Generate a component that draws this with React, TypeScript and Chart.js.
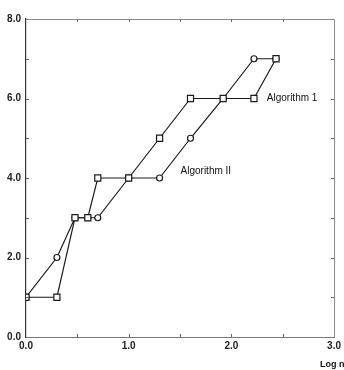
import React, { useEffect, useRef } from "react";
import { Chart, registerables } from "chart.js";

Chart.register(...registerables);

const xLogN = [0, 0.301, 0.477, 0.602, 0.699, 1.0, 1.301, 1.602, 1.92, 2.22, 2.435];
const algorithmI = [1, 1, 3, 3, 4, 4, 5, 6, 6, 6, 7];
const algorithmII = [1, 2, 3, 3, 3, 4, 4, 5, 6, 7, 7];
const seriesLabels = ["Algorithm 1", "Algorithm II"];
const xTitle = "Log n";

const FONT = "'Liberation Sans', Arial, sans-serif";

const decorPlugin = {
  id: "decor",
  afterDraw(chart: any) {
    const { ctx, chartArea, scales } = chart;
    const x = scales.x;
    const y = scales.y;
    ctx.save();
    // light top & right frame
    ctx.strokeStyle = "#8a8a8a";
    ctx.lineWidth = 1;
    ctx.beginPath();
    ctx.moveTo(chartArea.left, chartArea.top + 0.5);
    ctx.lineTo(chartArea.right + 0.5, chartArea.top + 0.5);
    ctx.lineTo(chartArea.right + 0.5, chartArea.bottom);
    ctx.stroke();
    // inward minor ticks
    ctx.strokeStyle = "#666";
    ctx.beginPath();
    for (let v = 1; v < 8; v++) {
      const py = Math.round(y.getPixelForValue(v)) + 0.5;
      ctx.moveTo(chartArea.left, py);
      ctx.lineTo(chartArea.left + 3, py);
      ctx.moveTo(chartArea.right, py);
      ctx.lineTo(chartArea.right - 3, py);
    }
    for (let v = 0.5; v < 3; v += 0.5) {
      const px = Math.round(x.getPixelForValue(v)) + 0.5;
      ctx.moveTo(px, chartArea.bottom);
      ctx.lineTo(px, chartArea.bottom - 3);
      ctx.moveTo(px, chartArea.top);
      ctx.lineTo(px, chartArea.top + 3);
    }
    ctx.stroke();
    // series labels
    ctx.fillStyle = "#111";
    ctx.font = `10px ${FONT}`;
    ctx.textBaseline = "middle";
    ctx.textAlign = "left";
    ctx.fillText(seriesLabels[0], x.getPixelForValue(2.345), y.getPixelForValue(6));
    ctx.fillText(seriesLabels[1], x.getPixelForValue(1.505), y.getPixelForValue(4.18));
    // axis title
    ctx.font = `bold 9px ${FONT}`;
    ctx.textAlign = "left";
    ctx.fillText(xTitle, 320, 365);
    ctx.restore();
  },
};

export default function App() {
  const ref = useRef<HTMLCanvasElement | null>(null);
  useEffect(() => {
    if (!ref.current) return;
    const chart = new Chart(ref.current, {
      type: "line",
      data: {
        datasets: [
          {
            label: seriesLabels[0],
            data: xLogN.map((v, i) => ({ x: v, y: algorithmI[i] })),
            borderColor: "#1a1a1a",
            borderWidth: 1.2,
            pointStyle: "rect",
            pointRadius: 4.3,
            pointBorderWidth: 1.2,
            pointBackgroundColor: "#fff",
            pointBorderColor: "#1a1a1a",
            tension: 0,
          },
          {
            label: seriesLabels[1],
            data: xLogN.map((v, i) => ({ x: v, y: algorithmII[i] })),
            borderColor: "#1a1a1a",
            borderWidth: 1.2,
            pointStyle: "circle",
            pointRadius: 3,
            pointBorderWidth: 1.2,
            pointBackgroundColor: "#fff",
            pointBorderColor: "#1a1a1a",
            tension: 0,
          },
        ],
      },
      options: {
        responsive: false,
        animation: false,
        layout: { padding: { top: 19, right: 6, left: 0, bottom: 0 } },
        plugins: { legend: { display: false }, tooltip: { enabled: false } },
        scales: {
          x: {
            type: "linear",
            min: 0,
            max: 3,
            afterFit(s: any) {
              s.height = 33;
            },
            grid: { display: false, drawTicks: false, tickLength: 0 },
            border: { display: true, color: "#777", width: 1 },
            ticks: {
              stepSize: 1,
              padding: 3,
              color: "#222",
              font: { family: FONT, size: 10, weight: "bold" },
              callback: (v: any) => Number(v).toFixed(1),
            },
          },
          y: {
            type: "linear",
            min: 0,
            max: 8,
            afterFit(s: any) {
              s.width = 26;
            },
            grid: { display: false, drawTicks: false, tickLength: 0 },
            border: { display: true, color: "#333", width: 1.2 },
            ticks: {
              stepSize: 2,
              padding: 5,
              color: "#222",
              font: { family: FONT, size: 10, weight: "bold" },
              callback: (v: any) => Number(v).toFixed(1),
            },
          },
        },
      },
      plugins: [decorPlugin],
    });
    return () => chart.destroy();
  }, []);
  return (
    <div style={{ position: "fixed", left: 0, top: 0, width: 344, height: 370, background: "#fff" }}>
      <canvas ref={ref} width={344} height={370} />
    </div>
  );
}
